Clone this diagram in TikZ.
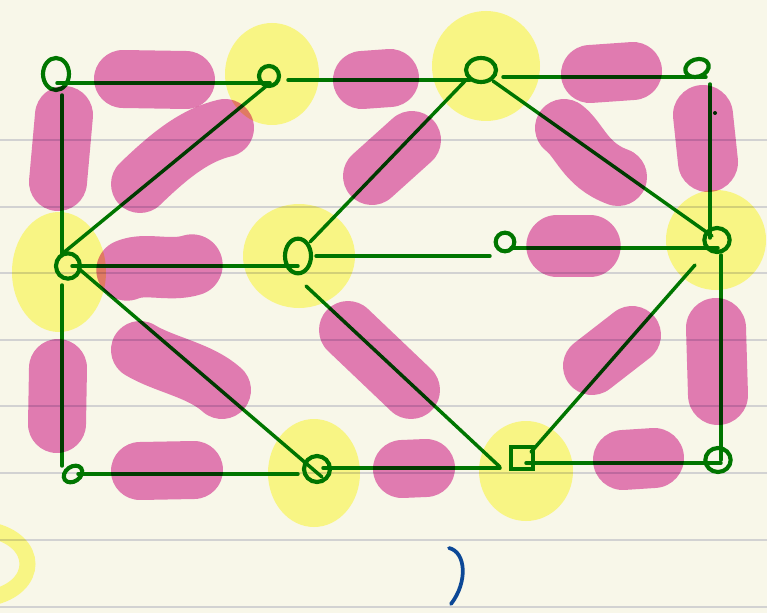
\documentclass[tikz,border=0pt]{standalone}
\usepackage{tikz}
\usetikzlibrary{shapes.geometric}

\definecolor{paper}{RGB}{248,247,233}
\definecolor{rulegrey}{RGB}{210,210,210}
\definecolor{ink}{RGB}{0,118,0}
\definecolor{hlpink}{RGB}{231,127,193}
\definecolor{hlyellow}{RGB}{255,253,145}
\definecolor{pen}{RGB}{12,72,150}

\begin{document}
\begin{tikzpicture}[
        x=0.75pt, y=-0.75pt,
        vtx/.style={draw=ink, line width=3.1pt, ellipse, inner sep=0pt},
        sqvtx/.style={draw=ink, line width=3.1pt, rectangle, inner sep=0pt},
        edge/.style={draw=ink, line width=2.6pt, line cap=round},
        pinkmark/.style={draw=hlpink, line width=43.5pt, line cap=round, line join=round, blend mode=multiply},
        yellowmark/.style={fill=hlyellow, blend mode=multiply}
    ]
        \useasboundingbox (0,0) rectangle (767,613);

        % Paper and its ruled lines
        \fill[paper] (0,0) rectangle (767,613);
        \foreach \y in {140,207,273,340,406,473,540,607}
            \draw[rulegrey, line width=1.4pt] (0,\y) -- (767,\y);

        % Define the vertices
        \node[vtx, minimum width=19.5pt, minimum height=24pt] (nw) at (56,74)  {};
        \node[vtx, minimum width=15pt,   minimum height=15pt] (n1) at (269,76) {};
        \node[vtx, minimum width=22.5pt, minimum height=18pt] (n2) at (481,70) {};
        \node[vtx, minimum width=18pt,   minimum height=13pt, rotate=18] (ne) at (697,68) {};
        \node[vtx, minimum width=18pt,   minimum height=19pt] (w)  at (68,266) {};
        \node[vtx, minimum width=19.5pt, minimum height=26pt] (c1) at (298,256) {};
        \node[vtx, minimum width=14pt,   minimum height=14pt] (c2) at (505,242) {};
        \node[vtx, minimum width=19pt,   minimum height=18pt] (e)  at (717,240) {};
        \node[vtx, minimum width=15pt,   minimum height=11pt, rotate=35] (sw) at (73,474) {};
        \node[vtx, minimum width=19.5pt, minimum height=19.5pt] (s1) at (317,469) {};
        \node[sqvtx, minimum width=17pt, minimum height=16.5pt] (s2) at (522,458) {};
        \node[vtx, minimum width=19pt,   minimum height=18pt] (se) at (718,460) {};

        % Draw the edges (hand drawn, so they start a little off the centres)
        \draw[edge] ([shift={(1,9)}]nw.center)   -- ([shift={(1,7)}]n1.center);
        \draw[edge] ([shift={(6,21)}]nw.center)  -- ([shift={(-6,-12)}]w.center);
        \draw[edge] ([shift={(-6,-12)}]w.center) -- ([shift={(1,7)}]n1.center);
        \draw[edge] ([shift={(19,4)}]n1.center)  -- ([shift={(-11,10)}]n2.center);
        \draw[edge] ([shift={(22,7)}]n2.center)  -- ([shift={(9,9)}]ne.center);
        \draw[edge] ([shift={(13,16)}]ne.center) -- ([shift={(-7,-2)}]e.center);
        \draw[edge] ([shift={(-16,11)}]n2.center) -- ([shift={(12,-14)}]c1.center);
        \draw[edge] ([shift={(12,11)}]n2.center) -- ([shift={(-5,-4)}]e.center);
        \draw[edge] ([shift={(4,0)}]w.center)    -- ([shift={(0,10)}]c1.center);
        \draw[edge] ([shift={(18,0)}]c1.center)  -- ([shift={(-15,14)}]c2.center);
        \draw[edge] ([shift={(6,6)}]c2.center)   -- ([shift={(1,8)}]e.center);
        \draw[edge] ([shift={(10,2)}]w.center)   -- ([shift={(5,8)}]s1.center);
        \draw[edge] ([shift={(-6,19)}]w.center)  -- ([shift={(-11,-8)}]sw.center);
        \draw[edge] ([shift={(5,0)}]sw.center)   -- ([shift={(-19,5)}]s1.center);
        \draw[edge] ([shift={(8,30)}]c1.center)  -- ([shift={(-22,9)}]s2.center);
        \draw[edge] ([shift={(6,-1)}]s1.center)  -- ([shift={(-22,10)}]s2.center);
        \draw[edge] ([shift={(9,-6)}]s2.center)  -- ([shift={(-22,25)}]e.center);
        \draw[edge] ([shift={(4,5)}]s2.center)   -- ([shift={(3,3)}]se.center);
        \draw[edge] ([shift={(4,15)}]e.center)   -- ([shift={(3,0)}]se.center);
        \fill[ink!70!black] (715,113) circle (2);

        % Yellow highlights on the chosen vertices
        \fill[yellowmark] (272,74)  ellipse [x radius=47, y radius=51];
        \fill[yellowmark] (486,66)  ellipse [x radius=54, y radius=55];
        \fill[yellowmark] (59,272)  ellipse [x radius=47, y radius=60];
        \fill[yellowmark] (299,256) ellipse [x radius=56, y radius=52];
        \fill[yellowmark] (716,240) ellipse [x radius=50, y radius=50];
        \fill[yellowmark] (314,473) ellipse [x radius=46, y radius=54];
        \fill[yellowmark] (526,471) ellipse [x radius=47, y radius=50];
        \draw[hlyellow, line width=12pt, blend mode=multiply]
            (-10,530) .. controls (40,540) and (40,588) .. (-10,598);

        % Pink highlights on the edges
        \draw[pinkmark] (123,79) -- (186,80);
        \draw[pinkmark] (64,115) -- (58,182);
        \draw[pinkmark] (140,184) .. controls (170,155) and (195,135) .. (225,128);
        \draw[pinkmark, line width=46pt] (127,270) .. controls (145,262) and (170,272) .. (192,265);
        \draw[pinkmark] (362,80) -- (390,78);
        \draw[pinkmark] (372,176) -- (412,140);
        \draw[pinkmark] (590,74) -- (633,71);
        \draw[pinkmark] (564,128) .. controls (580,140) and (585,165) .. (618,177);
        \draw[pinkmark, line width=45pt] (703,115) -- (708,162);
        \draw[pinkmark, line width=46pt] (557,246) -- (590,246);
        \draw[pinkmark] (58,368) -- (57,424);
        \draw[pinkmark] (140,350) .. controls (165,365) and (200,370) .. (222,390);
        \draw[pinkmark] (140,471) -- (194,470);
        \draw[pinkmark] (348,330) -- (411,390);
        \draw[pinkmark] (402,469) -- (426,468);
        \draw[pinkmark] (592,366) -- (632,335);
        \draw[pinkmark, line width=45pt] (623,460) -- (654,458);
        \draw[pinkmark, line width=45pt] (716,328) -- (718,395);

        % Stray pen stroke at the bottom
        \draw[pen, line width=2.8pt, line cap=round]
            (449,548) .. controls (466,552) and (468,582) .. (451,604);
    \end{tikzpicture}
\end{document}
